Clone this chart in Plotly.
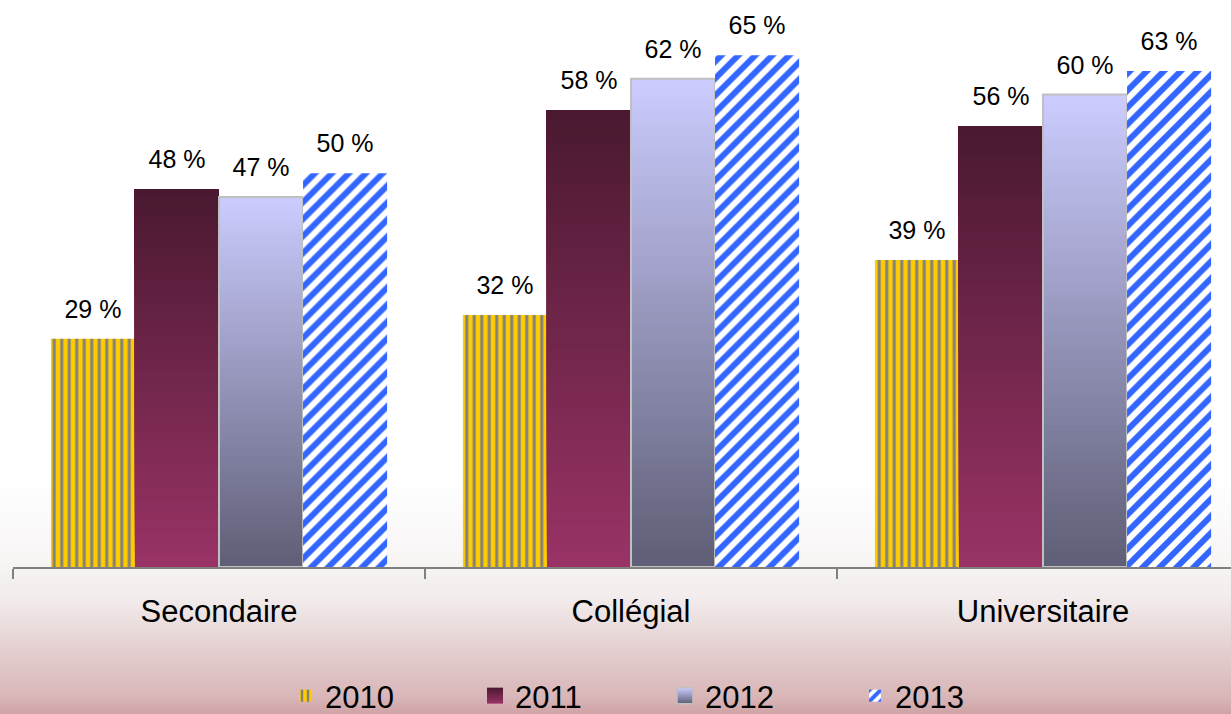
import base64
import plotly.graph_objects as go

# ---- data -------------------------------------------------------------
categories = ["Secondaire", "Collégial", "Universitaire"]
years = ["2010", "2011", "2012", "2013"]
values_2010 = [29, 32, 39]
values_2011 = [48, 58, 56]
values_2012 = [47, 62, 60]
values_2013 = [50, 65, 63]

FONT = "Liberation Sans, Arial, sans-serif"
N_STEPS = 80  # slices used to paint the vertical gradients


def lerp(c0, c1, t):
    return "rgb(%d,%d,%d)" % tuple(round(a + (b - a) * t) for a, b in zip(c0, c1))


def gradient_bars(vals, group, bottom_rgb, top_rgb):
    """Paint each bar as overlapping slices, bottom colour -> top colour.

    Slice i runs from i/N of the bar up to its top, so every later slice
    covers the upper part of the previous one and no seams are left.
    """
    traces = []
    for i in range(N_STEPS):
        lo = [v * i / N_STEPS for v in vals]
        traces.append(go.Bar(
            x=categories, y=[v - l for v, l in zip(vals, lo)], base=lo,
            offsetgroup=group, marker=dict(color=lerp(bottom_rgb, top_rgb, (i + 0.5) / N_STEPS),
                                           line=dict(width=0)),
            showlegend=False, hoverinfo="skip",
        ))
    return traces


def value_labels(vals, group):
    """Transparent boxes sitting just above each bar that carry the value text."""
    return go.Bar(
        x=categories, y=[4.6] * len(vals), base=[v + 1.5 for v in vals],
        offsetgroup=group, marker=dict(color="rgba(0,0,0,0)", line=dict(width=0)),
        text=[f"{v} %" for v in vals], textposition="inside", insidetextanchor="middle",
        textangle=0, constraintext="none",
        textfont=dict(family=FONT, size=25, color="#000000"),
        showlegend=False, hoverinfo="skip",
    )


fig = go.Figure()

# 2010 : yellow / grey vertical stripes
fig.add_trace(go.Bar(
    x=categories, y=values_2010, base=[0] * 3, name=years[0], offsetgroup="g2010",
    marker=dict(color="#FFCC00", line=dict(width=0),
                pattern=dict(shape="|", fillmode="overlay", bgcolor="#FFCC00",
                             fgcolor="#808080", fgopacity=1, size=7.5, solidity=0.4)),
    legendrank=1, hoverinfo="skip",
))

# 2011 : dark plum gradient
for t in gradient_bars(values_2011, "g2011", (153, 51, 102), (74, 25, 48)):
    fig.add_trace(t)

# 2012 : lavender to slate gradient, with a light grey outline
for t in gradient_bars(values_2012, "g2012", (94, 94, 118), (204, 204, 255)):
    fig.add_trace(t)
fig.add_trace(go.Bar(
    x=categories, y=values_2012, base=[0] * 3, offsetgroup="g2012",
    marker=dict(color="rgba(0,0,0,0)", line=dict(color="#C0C0C0", width=2)),
    showlegend=False, hoverinfo="skip",
))

# 2013 : blue diagonal hatching on white
fig.add_trace(go.Bar(
    x=categories, y=values_2013, base=[0] * 3, name=years[3], offsetgroup="g2013",
    marker=dict(color="#FFFFFF", line=dict(width=0),
                pattern=dict(shape="/", fillmode="overlay", bgcolor="#FFFFFF",
                             fgcolor="#3366FF", fgopacity=1, size=12, solidity=0.5)),
    legendrank=4, hoverinfo="skip",
))

# value labels
for vals, grp in [(values_2010, "g2010"), (values_2011, "g2011"),
                  (values_2012, "g2012"), (values_2013, "g2013")]:
    fig.add_trace(value_labels(vals, grp))

# legend swatches for the gradient series
fig.add_trace(go.Scatter(
    x=[None], y=[None], mode="markers", name=years[1], legendrank=2,
    marker=dict(symbol="square", size=16, color="#4A1930",
                gradient=dict(type="vertical", color="#993366"), line=dict(width=0)),
))
fig.add_trace(go.Scatter(
    x=[None], y=[None], mode="markers", name=years[2], legendrank=3,
    marker=dict(symbol="square", size=16, color="#CCCCFF",
                gradient=dict(type="vertical", color="#5E5E76"),
                line=dict(width=1.5, color="#C0C0C0")),
))

# soft white -> rose backdrop behind the whole chart
svg = (
    '<svg xmlns="http://www.w3.org/2000/svg" viewBox="0 0 100 100" '
    'preserveAspectRatio="none" width="100" height="100">'
    '<defs><linearGradient id="bg" x1="0" y1="0" x2="0" y2="1">'
    '<stop offset="0" stop-color="#FFFFFF"/>'
    '<stop offset="0.67" stop-color="#FFFFFF"/>'
    '<stop offset="0.784" stop-color="#F8F5F5"/>'
    '<stop offset="0.84" stop-color="#F2EBEB"/>'
    '<stop offset="0.90" stop-color="#E6D3D4"/>'
    '<stop offset="0.976" stop-color="#D9B6B8"/>'
    '<stop offset="1" stop-color="#CFA3A5"/>'
    '</linearGradient></defs>'
    '<rect x="0" y="0" width="100" height="100" fill="url(#bg)"/></svg>'
)
bg_uri = "data:image/svg+xml;base64," + base64.b64encode(svg.encode()).decode()

W, H = 1231, 714
ML, MR, MT, MB = 13, 0, 0, 147
PW, PH = W - ML - MR, H - MT - MB

fig.add_layout_image(dict(
    source=bg_uri, xref="paper", yref="paper",
    x=-ML / PW, y=1 + MT / PH, sizex=W / PW, sizey=H / PH,
    xanchor="left", yanchor="top", sizing="stretch", layer="below",
))

fig.update_layout(
    width=W, height=H,
    margin=dict(l=ML, r=MR, t=MT, b=MB, autoexpand=False),
    paper_bgcolor="#FFFFFF", plot_bgcolor="rgba(0,0,0,0)",
    barmode="group", bargap=0.184, bargroupgap=0,
    font=dict(family=FONT, color="#000000"),
    hovermode=False,
    showlegend=True,
    legend=dict(
        orientation="h", x=(285 - ML) / PW, xanchor="left",
        y=(PH - 696 + MT) / PH, yanchor="middle",
        font=dict(family=FONT, size=31, color="#000000"),
        bgcolor="rgba(0,0,0,0)", traceorder="normal",
        entrywidth=145, entrywidthmode="pixels",
    ),
    xaxis=dict(
        type="category", range=[-0.5, 2.5 - 18 / 412],
        showline=True, linecolor="#808080", linewidth=1.5,
        ticks="outside", tickson="boundaries", ticklen=10, tickwidth=1.5,
        tickcolor="#808080", showgrid=False, zeroline=False,
        ticklabelstandoff=16,
        tickfont=dict(family=FONT, size=31, color="#000000"),
    ),
    yaxis=dict(visible=False, range=[0, 72], showgrid=False, zeroline=False),
)

fig.write_html("out.html")
